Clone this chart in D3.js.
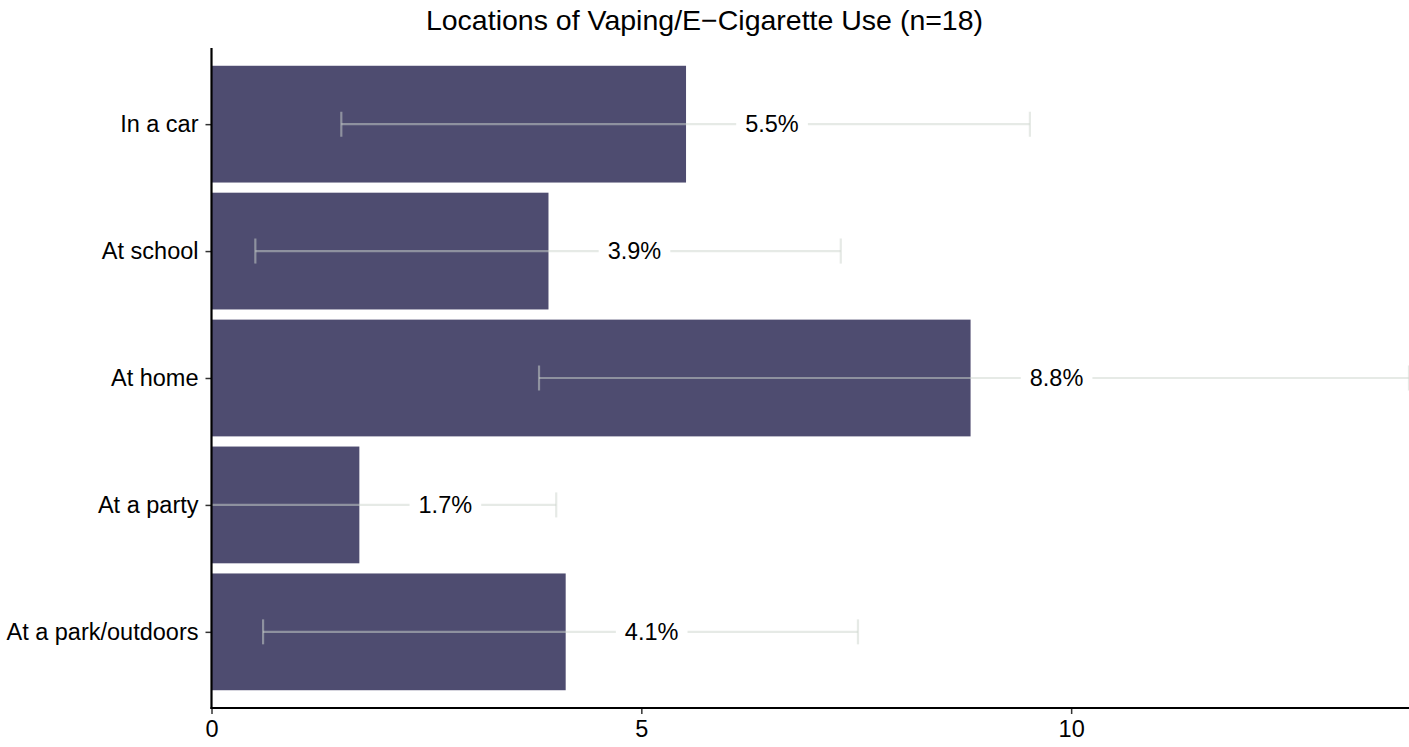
<!DOCTYPE html>
<html>
<head>
<meta charset="utf-8">
<script src="https://cdn.jsdelivr.net/npm/d3@7"></script>
<style>
  body { margin: 0; background: #fff; }
  svg { display: block; font-family: "Liberation Sans", Arial, Helvetica, sans-serif; }
</style>
</head>
<body>
<svg id="chart" width="1409" height="747"></svg>
<script>
const title = "Locations of Vaping/E\u2212Cigarette Use (n=18)";
const categories = ["In a car", "At school", "At home", "At a party", "At a park/outdoors"];
const values = [5.52, 3.92, 8.83, 1.72, 4.12];
const lowerCI = [1.51, 0.51, 3.81, -0.6, 0.60];
const upperCI = [9.52, 7.32, 13.93, 4.01, 7.52];
const xTicks = [0, 5, 10];
const xMax = 13.93;

const W = 1409, H = 747;
const panel = { left: 211.5, right: 1409, top: 48, bottom: 708 };

const svg = d3.select("#chart");

const x = d3.scaleLinear().domain([0, xMax]).range([panel.left, panel.right]);
// discrete scale with ggplot-style 0.6 expansion
const n = categories.length;
const unit = (panel.bottom - panel.top) / (n - 1 + 1.2);
const yCenter = c => panel.top + unit * (0.6 + categories.indexOf(c));
const barH = unit * 0.92;

svg.append("defs").append("clipPath").attr("id", "clip")
  .append("rect").attr("x", panel.left).attr("y", panel.top)
  .attr("width", panel.right - panel.left).attr("height", panel.bottom - panel.top);

const g = svg.append("g").attr("clip-path", "url(#clip)");

const data = categories.map((c, i) => ({ c, v: values[i], lo: lowerCI[i], hi: upperCI[i] }));

// bars
g.selectAll("rect.bar").data(data).enter().append("rect")
  .attr("class", "bar")
  .attr("x", x(0))
  .attr("y", d => yCenter(d.c) - barH / 2)
  .attr("width", d => x(d.v) - x(0))
  .attr("height", barH)
  .attr("fill", "#4e4c70");

// error bars
const eb = g.selectAll("g.eb").data(data).enter().append("g").attr("class", "eb")
  .attr("stroke", "rgb(205,213,205)").attr("stroke-opacity", 0.5).attr("stroke-width", 2.2);
eb.append("line")
  .attr("x1", d => x(d.lo)).attr("x2", d => x(d.hi))
  .attr("y1", d => yCenter(d.c)).attr("y2", d => yCenter(d.c));
eb.append("line")
  .attr("x1", d => x(d.lo)).attr("x2", d => x(d.lo))
  .attr("y1", d => yCenter(d.c) - 12.5).attr("y2", d => yCenter(d.c) + 12.5);
eb.append("line")
  .attr("x1", d => x(d.hi)).attr("x2", d => x(d.hi))
  .attr("y1", d => yCenter(d.c) - 12.5).attr("y2", d => yCenter(d.c) + 12.5);

// labels with white background
const lab = svg.selectAll("g.lab").data(data).enter().append("g").attr("class", "lab");
lab.each(function(d) {
  const gg = d3.select(this);
  const t = gg.append("text")
    .attr("x", x(d.v + 1)).attr("y", yCenter(d.c))
    .attr("text-anchor", "middle").attr("dominant-baseline", "central")
    .attr("font-size", 23.5).attr("fill", "#000")
    .text(d.v.toFixed(1) + "%");
  const bb = t.node().getBBox();
  gg.insert("rect", "text")
    .attr("x", bb.x - 9).attr("y", yCenter(d.c) - 15)
    .attr("width", bb.width + 18).attr("height", 30)
    .attr("fill", "#fff");
});

// axes
const xAxis = svg.append("g").attr("transform", `translate(0,${panel.bottom})`)
  .call(d3.axisBottom(x).tickValues(xTicks).tickSize(6).tickPadding(6).tickFormat(d3.format("d")));
xAxis.select(".domain").remove();
xAxis.selectAll(".tick line").attr("stroke", "#333").attr("stroke-width", 1.5);
xAxis.selectAll(".tick text").attr("font-size", 23.5).attr("fill", "#000")
  .attr("font-family", "Liberation Sans, Arial, sans-serif");

const yScale = d3.scalePoint().domain(categories)
  .range([yCenter(categories[0]), yCenter(categories[n - 1])]);
const yAxis = svg.append("g").attr("transform", `translate(${panel.left},0)`)
  .call(d3.axisLeft(yScale).tickSize(6).tickPadding(7));
yAxis.select(".domain").remove();
yAxis.selectAll(".tick line").attr("stroke", "#333").attr("stroke-width", 1.5);
yAxis.selectAll(".tick text").attr("font-size", 23.5).attr("fill", "#000")
  .attr("font-family", "Liberation Sans, Arial, sans-serif");

// axis lines
svg.append("line").attr("x1", panel.left).attr("x2", panel.left)
  .attr("y1", panel.top).attr("y2", panel.bottom + 1)
  .attr("stroke", "#000").attr("stroke-width", 2.2);
svg.append("line").attr("x1", panel.left - 1).attr("x2", panel.right)
  .attr("y1", panel.bottom).attr("y2", panel.bottom)
  .attr("stroke", "#000").attr("stroke-width", 2.2);

// title
svg.append("text").attr("x", 704.5).attr("y", 30)
  .attr("text-anchor", "middle").attr("font-size", 28.5).attr("fill", "#000")
  .text(title);
</script>
</body>
</html>
